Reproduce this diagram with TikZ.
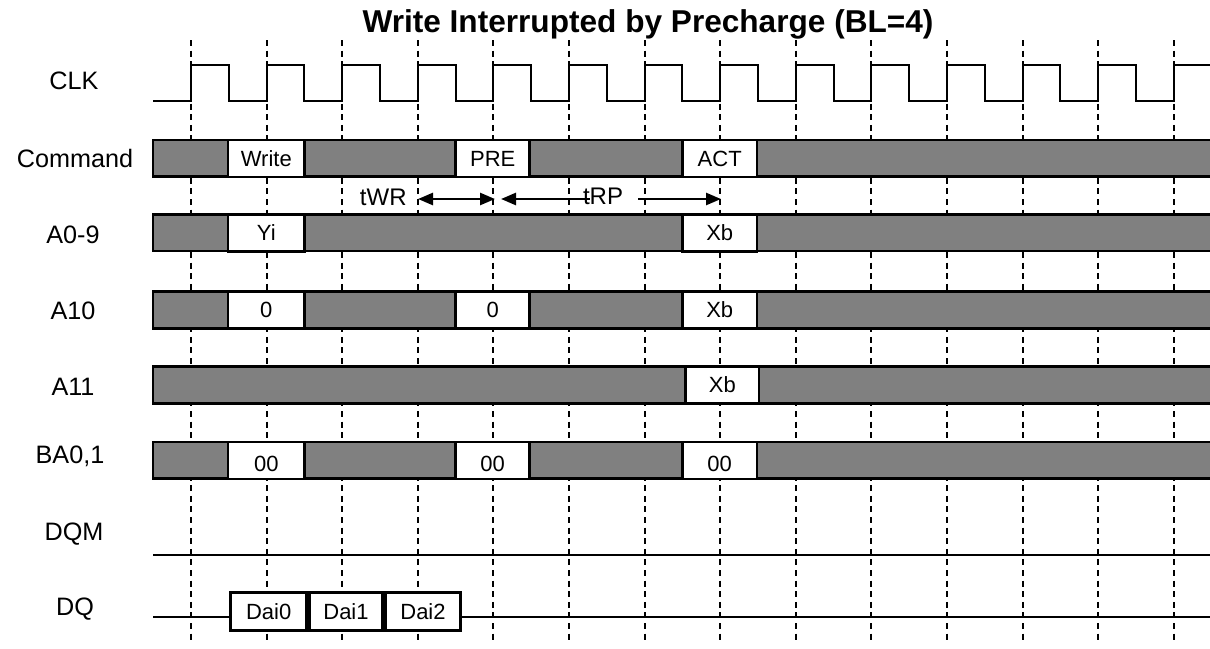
\documentclass[tikz,border=0pt]{standalone}
\usepackage{fontspec}
\setmainfont{Liberation Sans}
\usetikzlibrary{arrows.meta}
\tikzset{
  sig/.style={font=\fontsize{12.6}{15}\selectfont, inner sep=0pt, text height=9pt, text depth=0pt},
  clk/.style={line width=1pt},
  tick/.style={line width=1pt, dash pattern=on 3pt off 2.3pt},
  bus/.style={draw, fill=gray, line width=1.3pt},
  cell/.style={draw, fill=white, line width=1.3pt, inner sep=0pt, minimum height=18.5pt,
    font=\fontsize{11}{13}\selectfont, text height=7.9pt, text depth=0pt},
  wire/.style={line width=1pt},
  tarr/.style={line width=1.3pt},
  tlab/.style={font=\fontsize{12}{14}\selectfont, inner sep=0pt, text height=8.6pt, text depth=0pt}
}
\begin{document}
\begin{tikzpicture}[x=0.5pt, y=-0.5pt, >={Triangle[length=7.5pt,width=6pt]}]
  \clip (0,0) rectangle (1210,648);
  \node[font=\bfseries\fontsize{15.8}{18}\selectfont, inner sep=0pt, text height=11.3pt, text depth=0pt] (title) at (648,21.5) {Write Interrupted by Precharge (BL=4)};

  % clock edges
  \foreach \i in {0,...,13}
    \draw[tick] ({191+75.6*\i},40) -- ({191+75.6*\i},643);
  \draw[clk] (153,101.3) \foreach \i in {0,...,13} { -- ({191+75.6*\i},101.3) -- ++(0,-36.6) -- ++(37.8,0) -- ++(0,36.6) };

  % signal names
  \node[sig] (clk) at (74,80) {CLK};
  \node[sig] (cmd) at (75,158) {Command};
  \node[sig] (addr) at (73,234) {A0-9};
  \node[sig] (a10) at (73,310) {A10};
  \node[sig] (a11) at (73,386) {A11};
  \node[sig] (ba) at (70,454) {BA0,1};
  \node[sig] (dqm) at (74,531) {DQM};
  \node[sig] (dq) at (75,606.5) {DQ};

  % Command
  \draw[bus] (153,140) rectangle (1230,176.5);
  \node[cell, minimum width=38.3pt] (cmdwr) at (266.3,158.3) {Write};
  \node[cell, minimum width=37pt] (cmdpre) at (492.7,158.3) {PRE};
  \node[cell, minimum width=37.3pt] (cmdact) at (719.7,158.3) {ACT};

  % timing
  \coordinate (wr0) at (418,199);
  \coordinate (wr1) at (495,199);
  \coordinate (rp0) at (501,199);
  \coordinate (rpl) at (590,199);
  \coordinate (rpr) at (638,199);
  \coordinate (rp1) at (721,199);
  \node[tlab, anchor=east] (twr) at (407,196.5) {tWR};
  \node[tlab] (trp) at (603,196) {tRP};
  \draw[tarr, <->] (wr0) -- (wr1);
  \draw[tarr, <-] (rp0) -- (rpl);
  \draw[tarr, ->] (rpr) -- (rp1);

  % A0-9
  \draw[bus] (153,214.4) rectangle (1230,251);
  \node[cell, minimum width=38.3pt] (addry) at (266.3,232.7) {Yi};
  \node[cell, minimum width=37.3pt] (addrx) at (719.7,232.7) {Xb};

  % A10
  \draw[bus] (153,291.7) rectangle (1230,328.3);
  \node[cell, minimum width=38.3pt] (a10wr) at (266.3,310) {0};
  \node[cell, minimum width=37pt] (a10pre) at (492.7,310) {0};
  \node[cell, minimum width=37.3pt] (a10act) at (719.7,310) {Xb};

  % A11
  \draw[bus] (153,366.7) rectangle (1230,403.3);
  \node[cell, minimum width=36.7pt] (a11act) at (722.3,385) {Xb};

  % BA0,1
  \draw[bus] (153,442) rectangle (1230,478.6);
  \node[cell, minimum width=38.3pt, text height=10.9pt] (bawr) at (266.3,460.3) {00};
  \node[cell, minimum width=37pt, text height=10.9pt] (bapre) at (492.7,460.3) {00};
  \node[cell, minimum width=37.3pt, text height=10.9pt] (baact) at (719.7,460.3) {00};

  % DQM
  \coordinate (dqma) at (153,555);
  \coordinate (dqmb) at (1230,555);
  \draw[wire] (dqma) -- (dqmb);

  % DQ
  \coordinate (dqa) at (153,617);
  \coordinate (dqb) at (1230,617);
  \node[cell, minimum width=38pt, minimum height=19.2pt] (dq0) at (268.7,611.5) {Dai0};
  \node[cell, minimum width=36.7pt, minimum height=19.2pt, anchor=west] (dq1) at (dq0.east) {Dai1};
  \node[cell, minimum width=37.7pt, minimum height=19.2pt, anchor=west] (dq2) at (dq1.east) {Dai2};
  \draw[wire] (dqa) -- (dqa -| dq0.west);
  \draw[wire] (dq2.east |- dqb) -- (dqb);
\end{tikzpicture}
\end{document}
